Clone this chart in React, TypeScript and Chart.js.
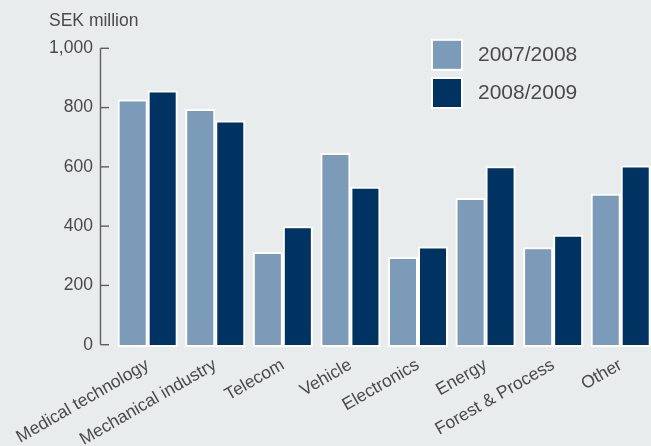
import React, { useEffect, useRef } from "react";
import { Chart, registerables } from "chart.js";

Chart.register(...registerables);

const categories = [
  "Medical technology",
  "Mechanical industry",
  "Telecom",
  "Vehicle",
  "Electronics",
  "Energy",
  "Forest & Process",
  "Other",
];
const series2007 = [827, 795, 313, 647, 296, 495, 329, 509];
const series2008 = [858, 756, 400, 533, 331, 602, 371, 605];
const seriesLabels = ["2007/2008", "2008/2009"];
const yTicks = [0, 200, 400, 600, 800, 1000];
const unitLabel = "SEK million";

const FONT = "'Liberation Sans', Arial, Helvetica, sans-serif";
const TEXT = "#4a4a4a";
const LIGHT = "#7b9bb9";
const DARK = "#003362";
const BG = "#e9eced";

const bgPlugin = {
  id: "bg",
  beforeDraw(chart: any) {
    const { ctx, width, height } = chart;
    ctx.save();
    ctx.fillStyle = BG;
    ctx.fillRect(0, 0, width, height);
    ctx.restore();
  },
};

const decorPlugin = {
  id: "decor",
  afterDraw(chart: any) {
    const { ctx, scales } = chart;
    const y = scales.y;
    const x0 = 100.5;
    ctx.save();
    // axis line
    ctx.strokeStyle = "#5e5e5e";
    ctx.lineWidth = 1.4;
    ctx.beginPath();
    ctx.moveTo(x0, y.getPixelForValue(1000));
    ctx.lineTo(x0, y.getPixelForValue(0));
    ctx.stroke();
    for (const v of yTicks) {
      const py = y.getPixelForValue(v);
      ctx.beginPath();
      ctx.moveTo(x0, py);
      ctx.lineTo(109, py);
      ctx.stroke();
    }
    // unit label
    ctx.fillStyle = TEXT;
    ctx.font = `17.5px ${FONT}`;
    ctx.textAlign = "left";
    ctx.textBaseline = "alphabetic";
    ctx.fillText(unitLabel, 49, 26);
    // legend
    const ds = chart.data.datasets;
    const rows = [54.8, 93];
    ds.forEach((d: any, i: number) => {
      const cy = rows[i];
      ctx.fillStyle = "#ffffff";
      ctx.fillRect(431, cy - 16, 32, 32);
      ctx.fillStyle = d.backgroundColor;
      ctx.fillRect(433, cy - 14, 28, 28);
      ctx.fillStyle = TEXT;
      ctx.font = `21px ${FONT}`;
      ctx.textBaseline = "middle";
      ctx.fillText(d.label, 478, cy);
    });
    ctx.restore();
  },
};

export default function App() {
  const ref = useRef<HTMLCanvasElement | null>(null);
  useEffect(() => {
    document.body.style.margin = "0";
    const canvas = ref.current;
    if (!canvas) return;
    const chart = new Chart(canvas, {
      type: "bar",
      data: {
        labels: categories,
        datasets: [
          {
            label: seriesLabels[0],
            data: series2007,
            backgroundColor: LIGHT,
            borderColor: "#ffffff",
            borderWidth: 2,
            borderSkipped: false,
            base: -8,
            clip: false as any,
          },
          {
            label: seriesLabels[1],
            data: series2008,
            backgroundColor: DARK,
            borderColor: "#ffffff",
            borderWidth: 2,
            borderSkipped: false,
            base: -8,
            clip: false as any,
          },
        ] as any,
      },
      options: {
        animation: false,
        responsive: false,
        maintainAspectRatio: false,
        devicePixelRatio: 1,
        layout: { padding: { top: 48.3, right: 1.5, left: 0, bottom: 0 } },
        datasets: {
          bar: { categoryPercentage: 0.888, barPercentage: 1 },
        },
        plugins: {
          legend: { display: false },
          title: { display: false },
          tooltip: { enabled: false },
        },
        scales: {
          x: {
            grid: { display: false, drawTicks: false },
            border: { display: false },
            ticks: {
              autoSkip: false,
              minRotation: 30,
              maxRotation: 30,
              padding: 10,
              color: TEXT,
              font: { family: FONT, size: 17.5 },
            },
            afterFit: (s: any) => {
              s.height = 446 - 344.7;
            },
          },
          y: {
            min: 0,
            max: 1000,
            grid: { display: false, drawTicks: false },
            border: { display: false },
            afterBuildTicks: (s: any) => {
              s.ticks = yTicks.map((v) => ({ value: v }));
            },
            ticks: {
              padding: 21,
              color: TEXT,
              font: { family: FONT, size: 17.5 },
              callback: (v: any) => Number(v).toLocaleString("en-US"),
            },
            afterFit: (s: any) => {
              s.width = 113.9;
            },
          },
        },
      },
      plugins: [bgPlugin, decorPlugin],
    });
    return () => chart.destroy();
  }, []);
  return (
    <div style={{ width: 651, height: 446, overflow: "hidden", background: BG }}>
      <canvas ref={ref} width={656} height={446} style={{ display: "block", width: 656, height: 446 }} />
    </div>
  );
}
